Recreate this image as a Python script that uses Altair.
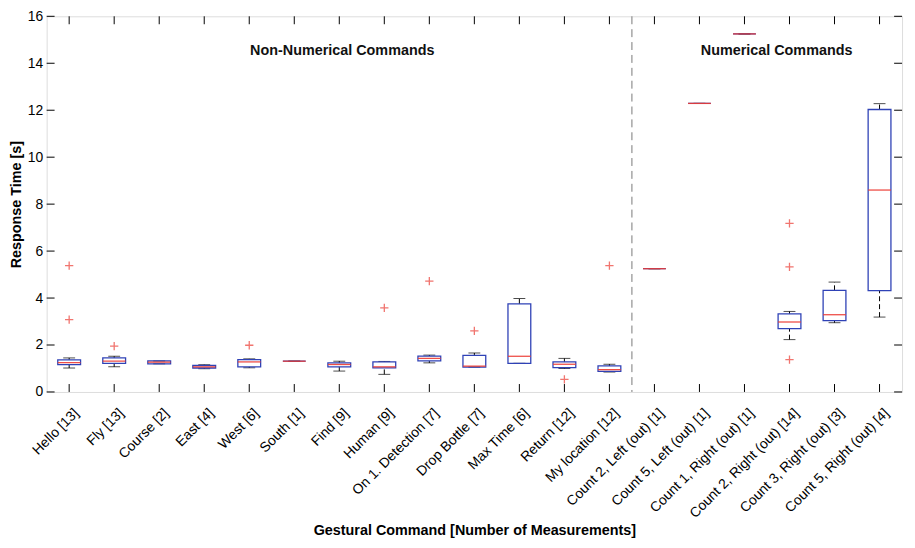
import altair as alt
import pandas as pd

categories = ["Hello [13]", "Fly [13]", "Course [2]", "East [4]", "West [6]", "South [1]",
              "Find [9]", "Human [9]", "On 1. Detection [7]", "Drop Bottle [7]", "Max Time [6]",
              "Return [12]", "My location [12]", "Count 2, Left (out) [1]", "Count 5, Left (out) [1]",
              "Count 1, Right (out) [1]", "Count 2, Right (out) [14]", "Count 3, Right (out) [3]",
              "Count 5, Right (out) [4]"]
whisker_low  = [1.02, 1.07, 1.20, 0.99, 1.03, 1.31, 0.89, 0.75, 1.24, 1.06, 1.22, 1.00, 0.85, 5.25, 12.29, 15.25, 2.23, 2.95, 3.19]
q1           = [1.16, 1.22, 1.20, 1.02, 1.07, 1.31, 1.07, 1.03, 1.32, 1.06, 1.22, 1.04, 0.88, 5.25, 12.29, 15.25, 2.70, 3.04, 4.32]
median       = [1.25, 1.31, 1.27, 1.07, 1.28, 1.31, 1.17, 1.07, 1.43, 1.10, 1.52, 1.18, 0.95, 5.25, 12.29, 15.25, 2.98, 3.29, 8.60]
q3           = [1.37, 1.45, 1.32, 1.13, 1.38, 1.31, 1.24, 1.28, 1.53, 1.56, 3.75, 1.28, 1.11, 5.25, 12.29, 15.25, 3.33, 4.33, 12.03]
whisker_high = [1.45, 1.52, 1.32, 1.16, 1.41, 1.31, 1.31, 1.30, 1.57, 1.66, 3.98, 1.43, 1.18, 5.25, 12.29, 15.25, 3.43, 4.68, 12.28]

outlier_cat = ["Hello [13]", "Hello [13]", "Fly [13]", "West [6]", "Human [9]", "On 1. Detection [7]",
               "Drop Bottle [7]", "Return [12]", "My location [12]",
               "Count 2, Right (out) [14]", "Count 2, Right (out) [14]", "Count 2, Right (out) [14]"]
outlier_val = [5.38, 3.08, 1.95, 1.99, 3.58, 4.72, 2.60, 0.54, 5.38, 7.18, 5.33, 1.38]

y_ticks = [0, 2, 4, 6, 8, 10, 12, 14, 16]

W, H = 863, 379
FONT = "Liberation Sans"
BLUE = "#2f42b6"
RED = "#ec3b33"

box = pd.DataFrame(dict(cmd=categories, lo=whisker_low, q1=q1, med=median, q3=q3, hi=whisker_high))
out = pd.DataFrame(dict(cmd=outlier_cat, val=outlier_val))
tx = pd.DataFrame(dict(cmd=categories))
ty = pd.DataFrame(dict(v=y_ticks))
ann1 = pd.DataFrame(dict(cmd=["Find [9]"], label=["Non-Numerical Commands"], v=[14.5]))
ann2 = pd.DataFrame(dict(cmd=["Count 2, Right (out) [14]"], label=["Numerical Commands"], v=[14.5]))

xscale = alt.Scale(type="point", padding=0.5, domain=categories)
yscale = alt.Scale(domain=[0, 16], nice=False, zero=False)

xaxis = alt.Axis(title="Gestural Command [Number of Measurements]", labelAngle=-45,
                 labelAlign="right", labelBaseline="middle", labelPadding=19, labelOffset=7,
                 ticks=False, domain=False, labelFontSize=14, labelFont=FONT, labelColor="black",
                 titleFontSize=14.5, titleFont=FONT, titleFontWeight="bold", titleColor="black",
                 titleY=140, titleBaseline="middle")
yaxis = alt.Axis(title="Response Time [s]", values=y_ticks, ticks=False, domain=False, grid=False,
                 labelFontSize=14, labelFont=FONT, labelColor="black", labelPadding=4,
                 titleFontSize=14.5, titleFont=FONT, titleFontWeight="bold", titleColor="black",
                 titleX=-30, titleY=H / 2, titleAngle=-90, titleAlign="center", titleBaseline="middle")

X = alt.X("cmd:N", scale=xscale, sort=categories, axis=xaxis)

separator = alt.Chart(tx).transform_filter(alt.datum.cmd == "My location [12]").mark_rule(
    color="#777777", strokeDash=[8, 5], strokeWidth=1).encode(
    x=alt.value(13 * W / 19), y=alt.value(0), y2=alt.value(H))

base = alt.Chart(box)
whisk_lo = base.mark_rule(color="black", strokeDash=[5, 3], strokeWidth=1).encode(
    x=X, y=alt.Y("lo:Q", scale=yscale, axis=yaxis), y2="q1:Q")
whisk_hi = base.mark_rule(color="black", strokeDash=[5, 3], strokeWidth=1).encode(
    x=X, y=alt.Y("q3:Q", scale=yscale, axis=yaxis), y2="hi:Q")
cap_lo = base.mark_tick(color="black", size=12, thickness=1, orient="horizontal").encode(
    x=X, y=alt.Y("lo:Q", scale=yscale, axis=yaxis))
cap_hi = base.mark_tick(color="black", size=12, thickness=1, orient="horizontal").encode(
    x=X, y=alt.Y("hi:Q", scale=yscale, axis=yaxis))
boxes = base.mark_bar(fillOpacity=0, stroke=BLUE, strokeWidth=1.3, size=23).encode(
    x=X, y=alt.Y("q1:Q", scale=yscale, axis=yaxis), y2="q3:Q")
medians = base.mark_tick(color=RED, size=23, thickness=1.3, orient="horizontal", opacity=0.9).encode(
    x=X, y=alt.Y("med:Q", scale=yscale, axis=yaxis))
outliers = alt.Chart(out).mark_point(shape="M-1,0L1,0M0,-1L0,1", size=70, filled=False,
                                     color=RED, strokeWidth=1.3).encode(
    x=X, y=alt.Y("val:Q", scale=yscale, axis=yaxis))

xt_bot = alt.Chart(tx).mark_rule(color="black").encode(x=X, y=alt.value(H), y2=alt.value(H - 8))
xt_top = alt.Chart(tx).mark_rule(color="black").encode(x=X, y=alt.value(0), y2=alt.value(8))
yt_l = alt.Chart(ty).mark_rule(color="black").encode(
    y=alt.Y("v:Q", scale=yscale, axis=yaxis), x=alt.value(0), x2=alt.value(8))
yt_r = alt.Chart(ty).mark_rule(color="black").encode(
    y=alt.Y("v:Q", scale=yscale, axis=yaxis), x=alt.value(W - 8), x2=alt.value(W))

text_props = dict(font=FONT, fontSize=14.5, fontWeight="bold", color="#111111",
                  align="center", baseline="middle")
text1 = alt.Chart(ann1).mark_text(dx=3, **text_props).encode(
    x=X, y=alt.Y("v:Q", scale=yscale, axis=yaxis), text="label:N")
text2 = alt.Chart(ann2).mark_text(dx=-13, **text_props).encode(
    x=X, y=alt.Y("v:Q", scale=yscale, axis=yaxis), text="label:N")

chart = alt.layer(separator, whisk_lo, whisk_hi, cap_lo, cap_hi, boxes, medians, outliers,
                  xt_bot, xt_top, yt_l, yt_r, text1, text2).properties(
    width=W, height=H,
    autosize=alt.AutoSizeParams(type="none"),
    padding={"left": 39, "top": 6, "right": 5, "bottom": 150},
).configure_view(stroke="black", strokeWidth=1).configure(background="white")

chart.save("out.html", embed_options={"renderer": "svg", "actions": False})
